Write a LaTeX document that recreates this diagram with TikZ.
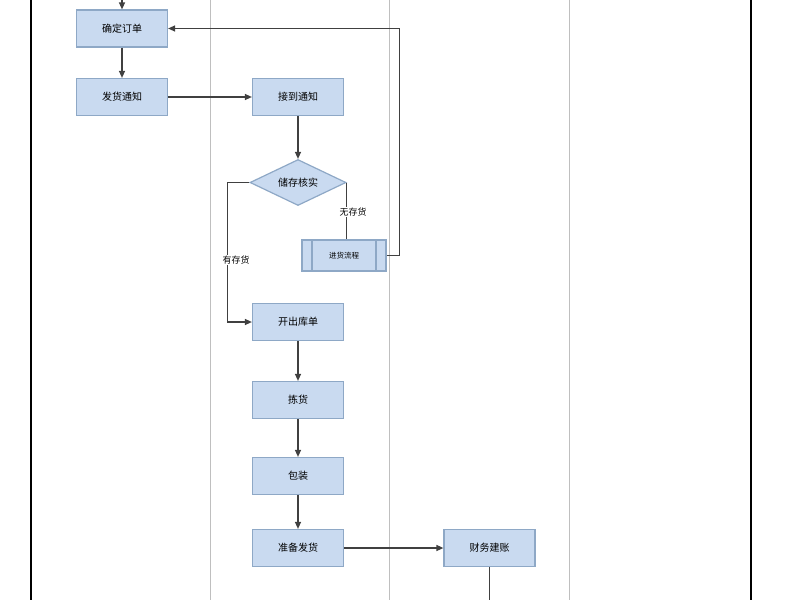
\documentclass[tikz,border=0pt]{standalone}
\usepackage{fontspec}
\setmainfont{Noto Sans CJK SC}
\usetikzlibrary{shapes.geometric,arrows.meta}
\definecolor{bfill}{HTML}{C9DAF0}
\definecolor{bdraw}{HTML}{8EA8C6}
\begin{document}
\begin{tikzpicture}[x=1pt,y=-1pt,
  box/.style={draw=bdraw,fill=bfill,line width=1.2pt,minimum width=91pt,minimum height=37pt,font=\fontsize{10}{12}\selectfont,inner sep=0pt},
  dia/.style={draw=bdraw,fill=bfill,line width=1.2pt,diamond,aspect=2.1,minimum width=96pt,minimum height=46pt,inner sep=0pt,font=\fontsize{10}{12}\selectfont},
  conn/.style={line width=1.3pt,draw=black!75},
  arr/.style={conn,-{Triangle[length=7pt,width=6pt]}},
  lane/.style={draw=black!25,line width=1pt},
  lbl/.style={font=\fontsize{9}{11}\selectfont,inner sep=1pt,fill=white}]
\useasboundingbox (0,0) rectangle (800,600);
\fill[white] (0,0) rectangle (800,600);
\draw[line width=2.5pt] (31,0) -- (31,600);
\draw[line width=2.5pt] (751,0) -- (751,600);
\draw[lane] (210,0) -- (210,600);
\draw[lane] (389,0) -- (389,600);
\draw[lane] (569,0) -- (569,600);
\node[box] (qd) at (122,28.5) {确定订单};
\node[box] (fh) at (122,97) {发货通知};
\node[box] (jd) at (298,97) {接到通知};
\node[dia] (cc) at (298,182.5) {储存核实};
\node[box,minimum width=84pt,minimum height=31pt,font=\fontsize{7.5}{9}\selectfont] (jh) at (344,255.5) {进货流程};
\draw[bdraw,line width=1.2pt] (312,240) -- (312,271) (376,240) -- (376,271);
\node[box] (kc) at (298,322) {开出库单};
\node[box] (jx) at (298,400) {拣货};
\node[box] (bz) at (298,476) {包装};
\node[box] (zb) at (298,548) {准备发货};
\node[box] (cw) at (489.5,548) {财务建账};
\coordinate (top) at (122,0);
\coordinate (bot) at (489.5,600);
\draw[arr] (top) -- (qd);
\draw[arr] (qd) -- (fh);
\draw[arr] (fh) -- (jd);
\draw[arr] (jd) -- (cc);
\draw[conn] (cc.east) -- (cc.east |- jh.north);
\node[lbl] (wc) at (353,212) {无存货};
\draw[arr] (jh.east) -- ++(13,0) |- (qd.east);
\draw[arr] (cc.west) -- ++(-22,0) |- (kc.west);
\node[lbl] (yc) at (236,260) {有存货};
\draw[arr] (kc) -- (jx);
\draw[arr] (jx) -- (bz);
\draw[arr] (bz) -- (zb);
\draw[arr] (zb) -- (cw);
\draw[conn] (cw) -- (bot);
\end{tikzpicture}
\end{document}
